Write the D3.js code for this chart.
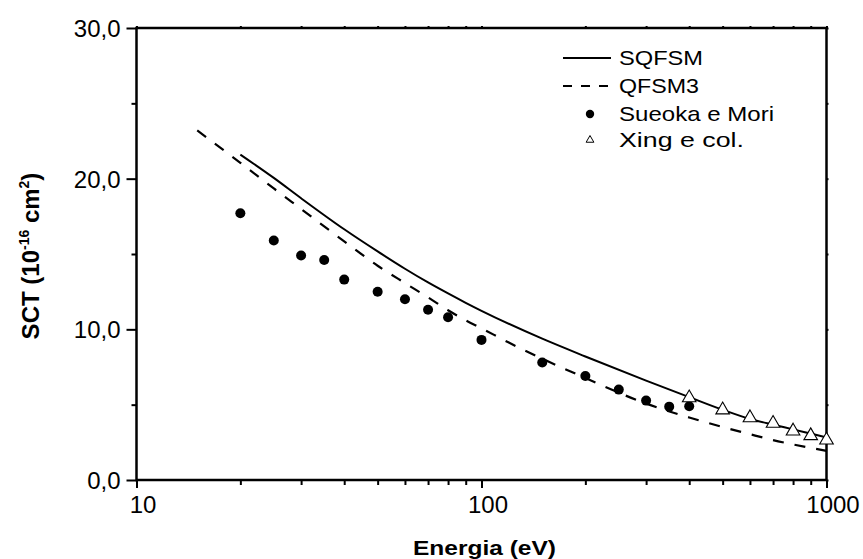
<!DOCTYPE html>
<html>
<head>
<meta charset="utf-8">
<script src="https://cdn.jsdelivr.net/npm/d3@7"></script>
<style>
  body { margin: 0; background: #fff; }
  svg { display: block; font-family: "Liberation Sans", Arial, sans-serif; }
</style>
</head>
<body>
<svg id="chart" width="863" height="559"></svg>
<script>
// ---- data ----
const sqfsmE   = [20, 25, 30, 40, 50, 60, 70, 80, 90, 100, 150, 200, 300, 400, 500, 600, 700, 800, 900, 1000];
const sqfsmSCT = [21.6, 20.05, 18.7, 16.64, 15.17, 14.02, 13.11, 12.38, 11.76, 11.23, 9.38, 8.2, 6.6, 5.5, 4.66, 4.05, 3.67, 3.36, 3.08, 2.83];

const qfsm3E   = [15, 20, 25, 30, 40, 50, 60, 70, 80, 90, 100, 120, 150, 200, 300, 400, 500, 600, 700, 800, 900, 1000];
const qfsm3SCT = [23.2, 21.05, 19.35, 17.99, 15.84, 14.22, 13.07, 12.12, 11.27, 10.6, 10.07, 9.12, 8.05, 6.77, 5.07, 4.15, 3.52, 3.04, 2.65, 2.36, 2.13, 1.93];

const sueokaE   = [20, 25, 30, 35, 40, 50, 60, 70, 80, 100, 150, 200, 250, 300, 350, 400];
const sueokaSCT = [17.7, 15.9, 14.9, 14.6, 13.3, 12.5, 12.0, 11.3, 10.8, 9.3, 7.8, 6.9, 6.0, 5.27, 4.87, 4.9];

const xingE   = [400, 500, 600, 700, 800, 900, 1000];
const xingSCT = [5.45, 4.65, 4.13, 3.76, 3.25, 2.94, 2.65];

const xMajorTicks = [10, 100, 1000];
const xMinorTicks = [20, 30, 40, 50, 60, 70, 80, 90, 200, 300, 400, 500, 600, 700, 800, 900];
const xTickLabels = ["10", "100", "1000"];
const yMajorTicks = [0, 10, 20, 30];
const yMinorTicks = [5, 15, 25];
const yTickLabels = ["0,0", "10,0", "20,0", "30,0"];

const legendNames = ["SQFSM", "QFSM3", "Sueoka e Mori", "Xing e col."];
const xTitle = "Energia (eV)";

// ---- layout ----
const svg = d3.select("#chart");
const L = 136.5, R = 826.5, T = 28, B = 480;
const x = d3.scaleLog().domain([10, 1000]).range([L, R]);
const y = d3.scaleLinear().domain([0, 30]).range([B, T]);

svg.append("defs").append("clipPath").attr("id", "clip")
  .append("rect").attr("x", L).attr("y", T).attr("width", R - L).attr("height", B - T);

// ---- axes ----
function styleAxis(g) {
  g.select(".domain").remove();
  g.selectAll("line").attr("stroke", "#000").attr("stroke-width", 2);
}
svg.append("g").attr("transform", `translate(0,${B})`)
  .call(d3.axisBottom(x).tickValues(xMinorTicks).tickSize(5).tickFormat(""))
  .call(styleAxis);
svg.append("g").attr("transform", `translate(0,${B})`)
  .call(d3.axisBottom(x).tickValues(xMajorTicks).tickSize(8).tickFormat((d, i) => xTickLabels[i]))
  .call(styleAxis)
  .call(g => g.selectAll("text").attr("y", 16).attr("dy", "0.71em").attr("x", 6)
    .attr("font-size", 24).attr("font-family", "Liberation Sans, Arial, sans-serif").attr("fill", "#000"));
svg.append("g").attr("transform", `translate(0,${T})`)
  .call(d3.axisTop(x).tickValues(xMinorTicks.concat(xMajorTicks)).tickSize(2).tickFormat(""))
  .call(styleAxis);
svg.append("g").attr("transform", `translate(${L},0)`)
  .call(d3.axisLeft(y).tickValues(yMinorTicks).tickSize(5).tickFormat(""))
  .call(styleAxis);
svg.append("g").attr("transform", `translate(${L},0)`)
  .call(d3.axisLeft(y).tickValues(yMajorTicks).tickSize(10).tickFormat((d, i) => yTickLabels[i]))
  .call(styleAxis)
  .call(g => g.selectAll("text").attr("x", -16).attr("dy", "0.35em")
    .attr("font-size", 24).attr("font-family", "Liberation Sans, Arial, sans-serif").attr("fill", "#000"));
svg.append("g").attr("transform", `translate(${R},0)`)
  .call(d3.axisRight(y).tickValues(yMinorTicks.concat(yMajorTicks)).tickSize(2).tickFormat(""))
  .call(styleAxis);

svg.append("rect").attr("x", L).attr("y", T).attr("width", R - L).attr("height", B - T)
  .attr("fill", "none").attr("stroke", "#000").attr("stroke-width", 2.5);

// ---- titles ----
svg.append("text").attr("x", 484.5).attr("y", 555)
  .attr("text-anchor", "middle").attr("font-weight", "bold").attr("font-size", 21)
  .attr("textLength", 143).attr("lengthAdjust", "spacingAndGlyphs")
  .text(xTitle);

const yt = svg.append("text").attr("transform", "translate(39,256) rotate(-90)")
  .attr("text-anchor", "middle").attr("font-weight", "bold").attr("font-size", 24);
yt.append("tspan").text("SCT (10");
yt.append("tspan").attr("font-size", 14).attr("dy", -10).text("-16");
yt.append("tspan").attr("dy", 10).text(" cm");
yt.append("tspan").attr("font-size", 14).attr("dy", -10).text("2");
yt.append("tspan").attr("dy", 10).text(")");

// ---- series ----
const plot = svg.append("g").attr("clip-path", "url(#clip)");
const line = d3.line().x(d => x(d[0])).y(d => y(d[1])).curve(d3.curveMonotoneX);

plot.append("path").datum(d3.zip(sqfsmE, sqfsmSCT)).attr("d", line)
  .attr("fill", "none").attr("stroke", "#000").attr("stroke-width", 2);
plot.append("path").datum(d3.zip(qfsm3E, qfsm3SCT)).attr("d", line)
  .attr("fill", "none").attr("stroke", "#000").attr("stroke-width", 2.2)
  .attr("stroke-dasharray", "11,11");

svg.append("g").selectAll("circle").data(d3.zip(sueokaE, sueokaSCT)).join("circle")
  .attr("cx", d => x(d[0])).attr("cy", d => y(d[1])).attr("r", 5).attr("fill", "#000");

const tri = d3.symbol().type(d3.symbolTriangle).size(80);
svg.append("g").selectAll("path").data(d3.zip(xingE, xingSCT)).join("path")
  .attr("d", tri).attr("transform", d => `translate(${x(d[0])},${y(d[1])})`)
  .attr("fill", "#fff").attr("stroke", "#000").attr("stroke-width", 1.1);

// ---- legend ----
const lg = svg.append("g");
const rowY = [57, 85, 113, 139];
const textX = 619;
const textLens = [84, 80, 155, 125];
legendNames.forEach((n, i) => {
  lg.append("text").attr("x", textX).attr("y", rowY[i]).attr("dy", "0.36em")
    .attr("font-size", 21).attr("textLength", textLens[i]).attr("lengthAdjust", "spacingAndGlyphs")
    .text(n);
});
lg.append("line").attr("x1", 563).attr("x2", 611).attr("y1", rowY[0] + 1).attr("y2", rowY[0] + 1)
  .attr("stroke", "#000").attr("stroke-width", 2);
lg.append("line").attr("x1", 563).attr("x2", 615).attr("y1", rowY[1] + 1).attr("y2", rowY[1] + 1)
  .attr("stroke", "#000").attr("stroke-width", 2).attr("stroke-dasharray", "9,9");
lg.append("circle").attr("cx", 590).attr("cy", rowY[2] + 1).attr("r", 4.2).attr("fill", "#000");
lg.append("path").attr("d", d3.symbol().type(d3.symbolTriangle).size(26)())
  .attr("transform", `translate(590,${rowY[3] + 1})`)
  .attr("fill", "#fff").attr("stroke", "#000").attr("stroke-width", 1);
</script>
</body>
</html>
